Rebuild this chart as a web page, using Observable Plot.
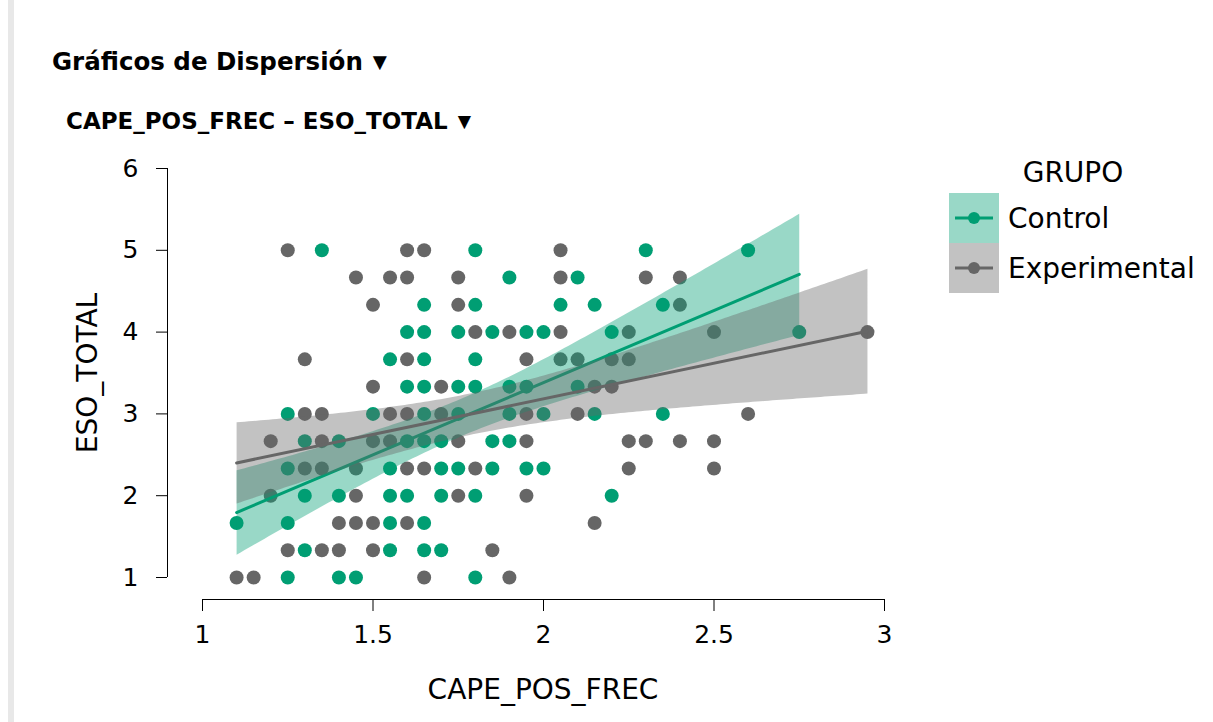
<!DOCTYPE html>
<html><head><meta charset="utf-8">
<script src="https://cdn.jsdelivr.net/npm/d3@7"></script>
<script src="https://cdn.jsdelivr.net/npm/@observablehq/plot@0.6"></script>
<style>
body{margin:0;background:#fff;font-family:"DejaVu Sans",sans-serif;width:1213px;height:722px;overflow:hidden;position:relative}
#bar{position:absolute;left:8px;top:0;width:6px;height:722px;background:#e8e8e8}
#t1{position:absolute;left:52px;top:47px;font-weight:bold;font-size:24.5px;color:#000;white-space:nowrap}
#t2{position:absolute;left:66px;top:108px;font-weight:bold;font-size:23px;color:#000;white-space:nowrap}
.tri{font-size:0.75em;margin-left:10px;position:relative;top:-2px}
#chart{position:absolute;left:0;top:130px}
#legend{position:absolute;left:940px;top:140px}
</style>
</head><body>
<div id="bar"></div>
<div id="t1">Gráficos de Dispersión<span class="tri">▼</span></div>
<div id="t2">CAPE_POS_FREC – ESO_TOTAL<span class="tri">▼</span></div>
<div id="chart"></div>
<div id="legend"></div>
<script>
const groups = ["Control", "Experimental"];
const groupColors = ["#009E73", "#666666"];
const xTicks = [1, 1.5, 2, 2.5, 3];
const yTicks = [1, 2, 3, 4, 5, 6];
const xLabel = "CAPE_POS_FREC";
const yLabel = "ESO_TOTAL";
const legendTitle = "GRUPO";

// y value of each row of points (top to bottom)
const yLevels = [5, 4.667, 4.333, 4, 3.667, 3.333, 3, 2.667, 2.333, 2, 1.667, 1.333, 1];
// x values of the points in each row
const controlRows = [
  [1.35, 1.8, 2.3, 2.6],
  [1.9, 2.1],
  [1.65, 1.8, 2.05, 2.15, 2.35],
  [1.6, 1.65, 1.75, 1.85, 1.95, 2.0, 2.2, 2.75],
  [1.55, 1.65, 1.8],
  [1.6, 1.65, 1.75, 1.8, 1.9, 1.95, 2.1],
  [1.25, 1.5, 1.65, 1.75, 1.9, 2.0, 2.15, 2.35],
  [1.3, 1.4, 1.6, 1.65, 1.7, 1.85, 1.9],
  [1.25, 1.55, 1.7, 1.75, 1.85, 1.95, 2.0],
  [1.3, 1.4, 1.55, 1.6, 1.7, 1.8, 2.2],
  [1.1, 1.25, 1.55, 1.65],
  [1.3, 1.55, 1.65, 1.7],
  [1.25, 1.4, 1.45, 1.8]
];
const experimentalRows = [
  [1.25, 1.6, 1.65, 2.05],
  [1.45, 1.55, 1.6, 1.75, 2.05, 2.3, 2.4],
  [1.5, 1.75, 2.4],
  [1.8, 1.9, 2.05, 2.25, 2.5, 2.95],
  [1.3, 1.6, 1.95, 2.05, 2.1, 2.2, 2.25],
  [1.5, 1.7, 2.15, 2.2],
  [1.3, 1.35, 1.55, 1.6, 1.7, 1.95, 2.1, 2.6],
  [1.2, 1.35, 1.5, 1.55, 1.75, 1.95, 2.25, 2.3, 2.4, 2.5],
  [1.3, 1.35, 1.45, 1.6, 1.65, 1.8, 2.25, 2.5],
  [1.2, 1.45, 1.75, 1.95],
  [1.4, 1.45, 1.5, 1.6, 2.15],
  [1.25, 1.35, 1.4, 1.5, 1.85],
  [1.1, 1.15, 1.65, 1.9]
];

const data = [];
[controlRows, experimentalRows].forEach((rows, gi) => {
  rows.forEach((xs, ri) => xs.forEach(x => data.push({group: groups[gi], x, y: yLevels[ri]})));
});

const FONT = "DejaVu Sans";
const chart = Plot.plot({
  width: 920, height: 585,
  marginLeft: 167, marginRight: 36, marginTop: 38, marginBottom: 116,
  style: {fontFamily: FONT, fontSize: "25px", color: "#000", background: "transparent", overflow: "visible"},
  x: {domain: [1, 3], insetLeft: 35},
  y: {domain: [1, 6], insetBottom: 22},
  color: {domain: groups, range: groupColors},
  marks: [
    Plot.ruleX([1], {y1: 1, y2: 6, dx: -35, stroke: "#000", strokeWidth: 1}),
    Plot.ruleY([1], {x1: 1, x2: 3, dy: 22, stroke: "#000", strokeWidth: 1}),
    Plot.axisX({ticks: xTicks, tickSize: 12, tickPadding: 14, fontSize: 25, label: null, tickFormat: d => String(d)}),
    Plot.axisY({ticks: yTicks, tickSize: 11, tickPadding: 18, fontSize: 25, label: null, tickFormat: d => String(d)}),
    Plot.text([xLabel], {frameAnchor: "bottom", dx: 17, dy: 91, fontSize: 28, lineAnchor: "middle"}),
    Plot.text([yLabel], {frameAnchor: "left", dx: -79, dy: -11, rotate: -90, fontSize: 28, textAnchor: "middle", lineAnchor: "middle"}),
    Plot.dot(data, {x: "x", y: "y", fill: "group", r: 7, stroke: "none"}),
    Plot.linearRegressionY(data, {x: "x", y: "y", stroke: "group", fill: "group", fillOpacity: 0.4, strokeWidth: 3})
  ]
});
document.getElementById("chart").appendChild(chart);

// legend
const lg = d3.select("#legend").append("svg").attr("width", 273).attr("height", 170)
  .style("font-family", FONT);
lg.append("text").attr("x", 133).attr("y", 42).attr("text-anchor", "middle").attr("font-size", 28).text(legendTitle);
groups.forEach((g, i) => {
  const top = 53 + i * 50;
  lg.append("rect").attr("x", 9).attr("y", top).attr("width", 50).attr("height", 50)
    .attr("fill", groupColors[i]).attr("fill-opacity", 0.4);
  lg.append("line").attr("x1", 15).attr("x2", 53).attr("y1", top + 25).attr("y2", top + 25)
    .attr("stroke", groupColors[i]).attr("stroke-width", 3);
  lg.append("circle").attr("cx", 34).attr("cy", top + 25).attr("r", 6).attr("fill", groupColors[i]);
  lg.append("text").attr("x", 68).attr("y", top + 35).attr("font-size", 28).text(g);
});
</script>
</body></html>
